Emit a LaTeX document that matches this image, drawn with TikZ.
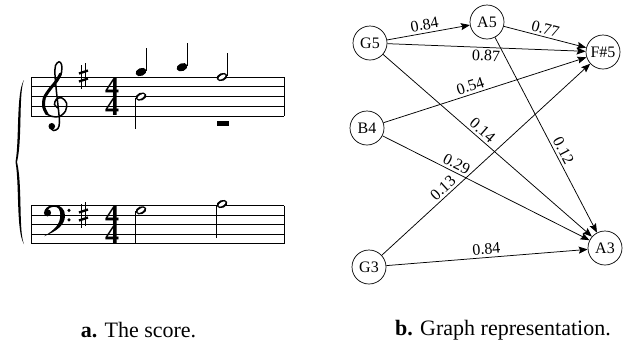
\documentclass[tikz,border=0pt]{standalone}
\usepackage{fontspec}
\setmainfont{Liberation Serif}
\usetikzlibrary{arrows.meta}
\newcommand\halfhead[1]{%
  \fill[rotate around={22:#1}] #1 ellipse (5.6 and 3.9);
  \fill[white,rotate around={32:#1}] #1 ellipse (4.0 and 1.8);}
\newcommand\quarterhead[1]{%
  \fill[rotate around={22:#1}] #1 ellipse (5.6 and 3.9);}
% sharp sign centred at (#1,#2)
\newcommand\sharpsign[2]{%
  \draw[line width=0.8pt] (#1-2.2,#2-11) -- (#1-2.2,#2+13);
  \draw[line width=0.8pt] (#1+2.2,#2-13) -- (#1+2.2,#2+11);
  \draw[line width=2.3pt] (#1-4.5,#2-2.5) -- (#1+4.5,#2-5.5);
  \draw[line width=2.3pt] (#1-4.5,#2+5.5) -- (#1+4.5,#2+2.5);}
\begin{document}
\begin{tikzpicture}[x=1pt,y=-1pt,
  staffline/.style={line width=0.9pt},
  stem/.style={line width=1.1pt},
  meter/.style={inner sep=0pt, font=\fontsize{28}{28}\selectfont\bfseries},
  gnode/.style={circle, draw, line width=0.7pt, minimum size=34pt, inner sep=0pt,
    font=\fontsize{16}{16}\selectfont},
  edge/.style={-{Stealth[length=9pt,width=7pt,inset=1.5pt]}, line width=0.75pt},
  lab/.style={sloped, inner sep=2.5pt, font=\fontsize{16}{16}\selectfont},
  caption/.style={inner sep=0pt, font=\fontsize{22}{22}\selectfont}]
\useasboundingbox (0,0) rectangle (627,346);
\fill[white] (0,0) rectangle (627,346);
% ---------- score ----------
\foreach \i in {0,...,4} {
  \draw[staffline] (31,77+9.8*\i) -- (284,77+9.8*\i);
  \draw[staffline] (31,205.5+9.6*\i) -- (284,205.5+9.6*\i);
}
\draw[staffline] (31,77) -- (31,116.2);
\draw[staffline] (284,77) -- (284,116.2);
\draw[staffline] (31,205.5) -- (31,243.9);
\draw[staffline] (284,205.5) -- (284,243.9);
% brace
\fill (24,80) .. controls (16,92) and (19.5,140) .. (15.5,162)
  .. controls (19.5,184) and (16,232) .. (24,244)
  .. controls (18.5,232) and (22.5,184) .. (17,162)
  .. controls (22.5,140) and (18.5,92) .. (24,80) -- cycle;
% treble clef
\draw[line width=1.5pt, line cap=round] plot[smooth, tension=0.55] coordinates {
  (58,108) (54.5,104.5) (56.5,99) (62,98) (66.5,103) (65.5,111) (59,116.5)
  (49.5,115.5) (43.5,108) (44,98) (50,88.5) (57,80.5) (61.5,72.5) (61.5,64.5)
  (59,61.8) (55.5,65.5) (55,75) (56.5,92) (58.5,110) (59.5,122) (58,128.5)
  (53.5,130.5) (50.5,128)};
\draw[line width=3pt, line cap=round] plot[smooth, tension=0.55] coordinates {
  (47,114) (43.8,107) (44.3,98) (50,89) (56.5,81) (60.5,74)};
\fill (51.8,126.3) circle (3.3);
% bass clef
\fill (47.5,212.8) circle (3.6);
\fill (44.5,210.5) .. controls (46.5,206.5) and (50.5,205) .. (54.5,205)
  .. controls (61,205) and (65,209.5) .. (65,215.5)
  .. controls (65,225) and (57,231) .. (44,236.3)
  .. controls (55,229.5) and (60.3,224) .. (60.3,215)
  .. controls (60.3,209.5) and (58,206.8) .. (54.5,206.8)
  .. controls (51,206.8) and (48,208.3) .. (46.5,211) -- cycle;
\fill (69,210.3) circle (1.7);
\fill (69,219.9) circle (1.7);
% key signatures
\sharpsign{83.5}{76}
\sharpsign{83.5}{215}
% meter
\node[meter] (m1) at (112,86.8) {4};
\node[meter] (m2) at (112,106.4) {4};
\node[meter] (m3) at (112,215.1) {4};
\node[meter] (m4) at (112,234.3) {4};
% treble notes
\quarterhead{(141,72)}
\draw[stem] (146.3,71) -- (146.3,48);
\quarterhead{(182,67.2)}
\draw[stem] (187.3,66) -- (187.3,43);
\halfhead{(222,77)}
\draw[stem] (227.3,76) -- (227.3,53);
\halfhead{(141,96.6)}
\draw[stem] (135.7,97.6) -- (135.7,129);
\fill (217,121) rectangle (229,126);
% bass notes
\halfhead{(141,210.3)}
\draw[stem] (135.7,211.3) -- (135.7,243.9);
\halfhead{(222,204)}
\draw[stem] (216.7,205) -- (216.7,238);
% ---------- graph ----------
\node[gnode] (G5) at (370,43) {G5};
\node[gnode] (A5) at (487,22) {A5};
\node[gnode] (F5) at (603,52) {F\#5};
\node[gnode] (B4) at (367,128) {B4};
\node[gnode] (G3) at (369,267) {G3};
\node[gnode] (A3) at (605,248) {A3};
\draw[edge] (G5) -- node[lab,above,pos=.47] {0.84} (A5);
\draw[edge] (A5) -- node[lab,above,pos=.48] {0.77} (F5);
\draw[edge] (G5) -- node[lab,below,pos=.5] {0.87} (F5);
\draw[edge] (B4) -- node[lab,above,pos=.44] {0.54} (F5);
\draw[edge] (G5) -- node[lab,above,pos=.45] {0.14} (A3);
\draw[edge] (A5) -- node[lab,above,pos=.6] {0.12} (A3);
\draw[edge] (B4) -- node[lab,above,pos=.34] {0.29} (A3);
\draw[edge] (G3) -- node[lab,above,pos=.32] {0.13} (F5);
\draw[edge] (G3) -- node[lab,above,pos=.5] {0.84} (A3);
% ---------- captions ----------
\node[caption] (capA) at (138.5,330) {\textbf{a.} The score.};
\node[caption] (capB) at (503,330) {\textbf{b.} Graph representation.};
\end{tikzpicture}
\end{document}
